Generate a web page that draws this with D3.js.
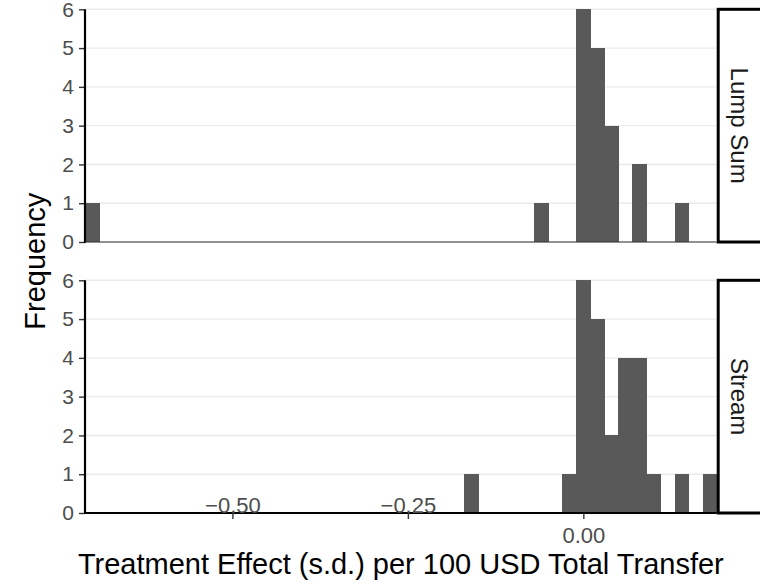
<!DOCTYPE html>
<html>
<head>
<meta charset="utf-8">
<script src="https://cdn.jsdelivr.net/npm/d3@7"></script>
<style>
  body { margin: 0; background: #fff; }
  svg { display: block; font-family: "Liberation Sans", Arial, sans-serif; }
</style>
</head>
<body>
<div id="chart"></div>
<script>
// histogram bins (left edge of each bin) and counts
var binWidth = 0.02;
var facetLabels = ["Lump Sum", "Stream"];
var lumpStarts = [-0.71, -0.07, -0.01, 0.01, 0.03, 0.07, 0.13];
var lumpCounts = [1, 1, 6, 5, 3, 2, 1];
var streamStarts = [-0.17, -0.03, -0.01, 0.01, 0.03, 0.05, 0.07, 0.09, 0.13, 0.17];
var streamCounts = [1, 1, 6, 5, 2, 4, 4, 1, 1, 1];
var xDomain = [-0.71, 0.19];
var xTicks = [-0.5, -0.25, 0];
var yTicks = [0, 1, 2, 3, 4, 5, 6];

function draw() {
    var w = 760;
    var h = 583;
    var left = 85, right = 716.7;
    var panels = [
        { label: facetLabels[0], starts: lumpStarts, counts: lumpCounts, top: 9.3, bottom: 242 },
        { label: facetLabels[1], starts: streamStarts, counts: streamCounts, top: 280.3, bottom: 513 }
    ];

    var svg = d3.select("#chart")
                .append("svg")
                .attr("width", w)
                .attr("height", h);

    var x = d3.scaleLinear().domain(xDomain).range([left, right]);
    var fmt = d3.format(".2f");

    panels.forEach(function(p, i) {
        var y = d3.scaleLinear().domain([0, 6]).range([p.bottom, p.top]);
        var g = svg.append("g");

        // grid lines
        g.selectAll("line.grid")
         .data(yTicks)
         .enter()
         .append("line")
         .attr("x1", left).attr("x2", right)
         .attr("y1", function(d) { return y(d); })
         .attr("y2", function(d) { return y(d); })
         .attr("stroke", "#ebebeb")
         .attr("stroke-width", 1.4);

        // bars
        var bins = p.starts.map(function(s, k) { return { x0: s, x1: s + binWidth, n: p.counts[k] }; });
        g.selectAll("rect.bar")
         .data(bins)
         .enter()
         .append("rect")
         .attr("x", function(d) { return x(d.x0); })
         .attr("width", function(d) { return x(d.x1) - x(d.x0) + 0.6; })
         .attr("y", function(d) { return y(d.n); })
         .attr("height", function(d) { return y(0) - y(d.n); })
         .attr("fill", "#595959")
         .attr("shape-rendering", "crispEdges");

        // y axis
        var yAxis = g.append("g")
                     .attr("transform", "translate(" + left + ",0)")
                     .call(d3.axisLeft(y).tickValues(yTicks).tickFormat(d3.format("d")).tickSize(6).tickPadding(5));
        yAxis.select(".domain").remove();
        yAxis.selectAll(".tick line").attr("stroke", "#333").attr("stroke-width", 1.4);
        yAxis.selectAll(".tick text")
             .attr("fill", "#4d4d4d")
             .attr("font-size", 21)
             .attr("font-family", "Liberation Sans, Arial, sans-serif");

        g.append("line")
         .attr("x1", left).attr("x2", left)
         .attr("y1", p.top).attr("y2", p.bottom + 1)
         .attr("stroke", "#000").attr("stroke-width", 2.2);

        // bottom line of the panel
        g.append("line")
         .attr("x1", left).attr("x2", right)
         .attr("y1", p.bottom).attr("y2", p.bottom)
         .attr("stroke", i === 1 ? "#000" : "#333")
         .attr("stroke-width", i === 1 ? 2.2 : 1.2);

        // strip on the right
        g.append("rect")
         .attr("x", right + 1.5)
         .attr("y", p.top)
         .attr("width", 80)
         .attr("height", p.bottom - p.top)
         .attr("fill", "#fff")
         .attr("stroke", "#000")
         .attr("stroke-width", 3);
        g.append("text")
         .attr("transform", "translate(" + 731 + "," + ((p.top + p.bottom) / 2) + ") rotate(90)")
         .attr("text-anchor", "middle")
         .attr("font-size", 24)
         .attr("fill", "#1a1a1a")
         .text(p.label);

        if (i === 1) {
            var xAxis = g.append("g")
                         .attr("transform", "translate(0," + p.bottom + ")")
                         .call(d3.axisBottom(x).tickValues(xTicks).tickSize(6).tickFormat(fmt));
            xAxis.select(".domain").remove();
            xAxis.selectAll(".tick line").attr("stroke", "#333").attr("stroke-width", 1.4);
            // labels with a minus sign sit above the axis in the original
            xAxis.selectAll(".tick text")
                 .attr("fill", "#4d4d4d")
                 .attr("font-size", 22)
                 .attr("font-family", "Liberation Sans, Arial, sans-serif")
                 .attr("y", function(d) { return d < 0 ? 0 : 30; })
                 .attr("dy", 0);
        }
    });

    // axis titles
    svg.append("text")
       .attr("x", (left + right) / 2)
       .attr("y", 574)
       .attr("text-anchor", "middle")
       .attr("font-size", 29)
       .attr("fill", "#000")
       .text("Treatment Effect (s.d.) per 100 USD Total Transfer");

    svg.append("text")
       .attr("transform", "translate(45," + ((9.3 + 513) / 2) + ") rotate(-90)")
       .attr("text-anchor", "middle")
       .attr("font-size", 29)
       .attr("fill", "#000")
       .text("Frequency");
}

window.onload = draw;
</script>
</body>
</html>
